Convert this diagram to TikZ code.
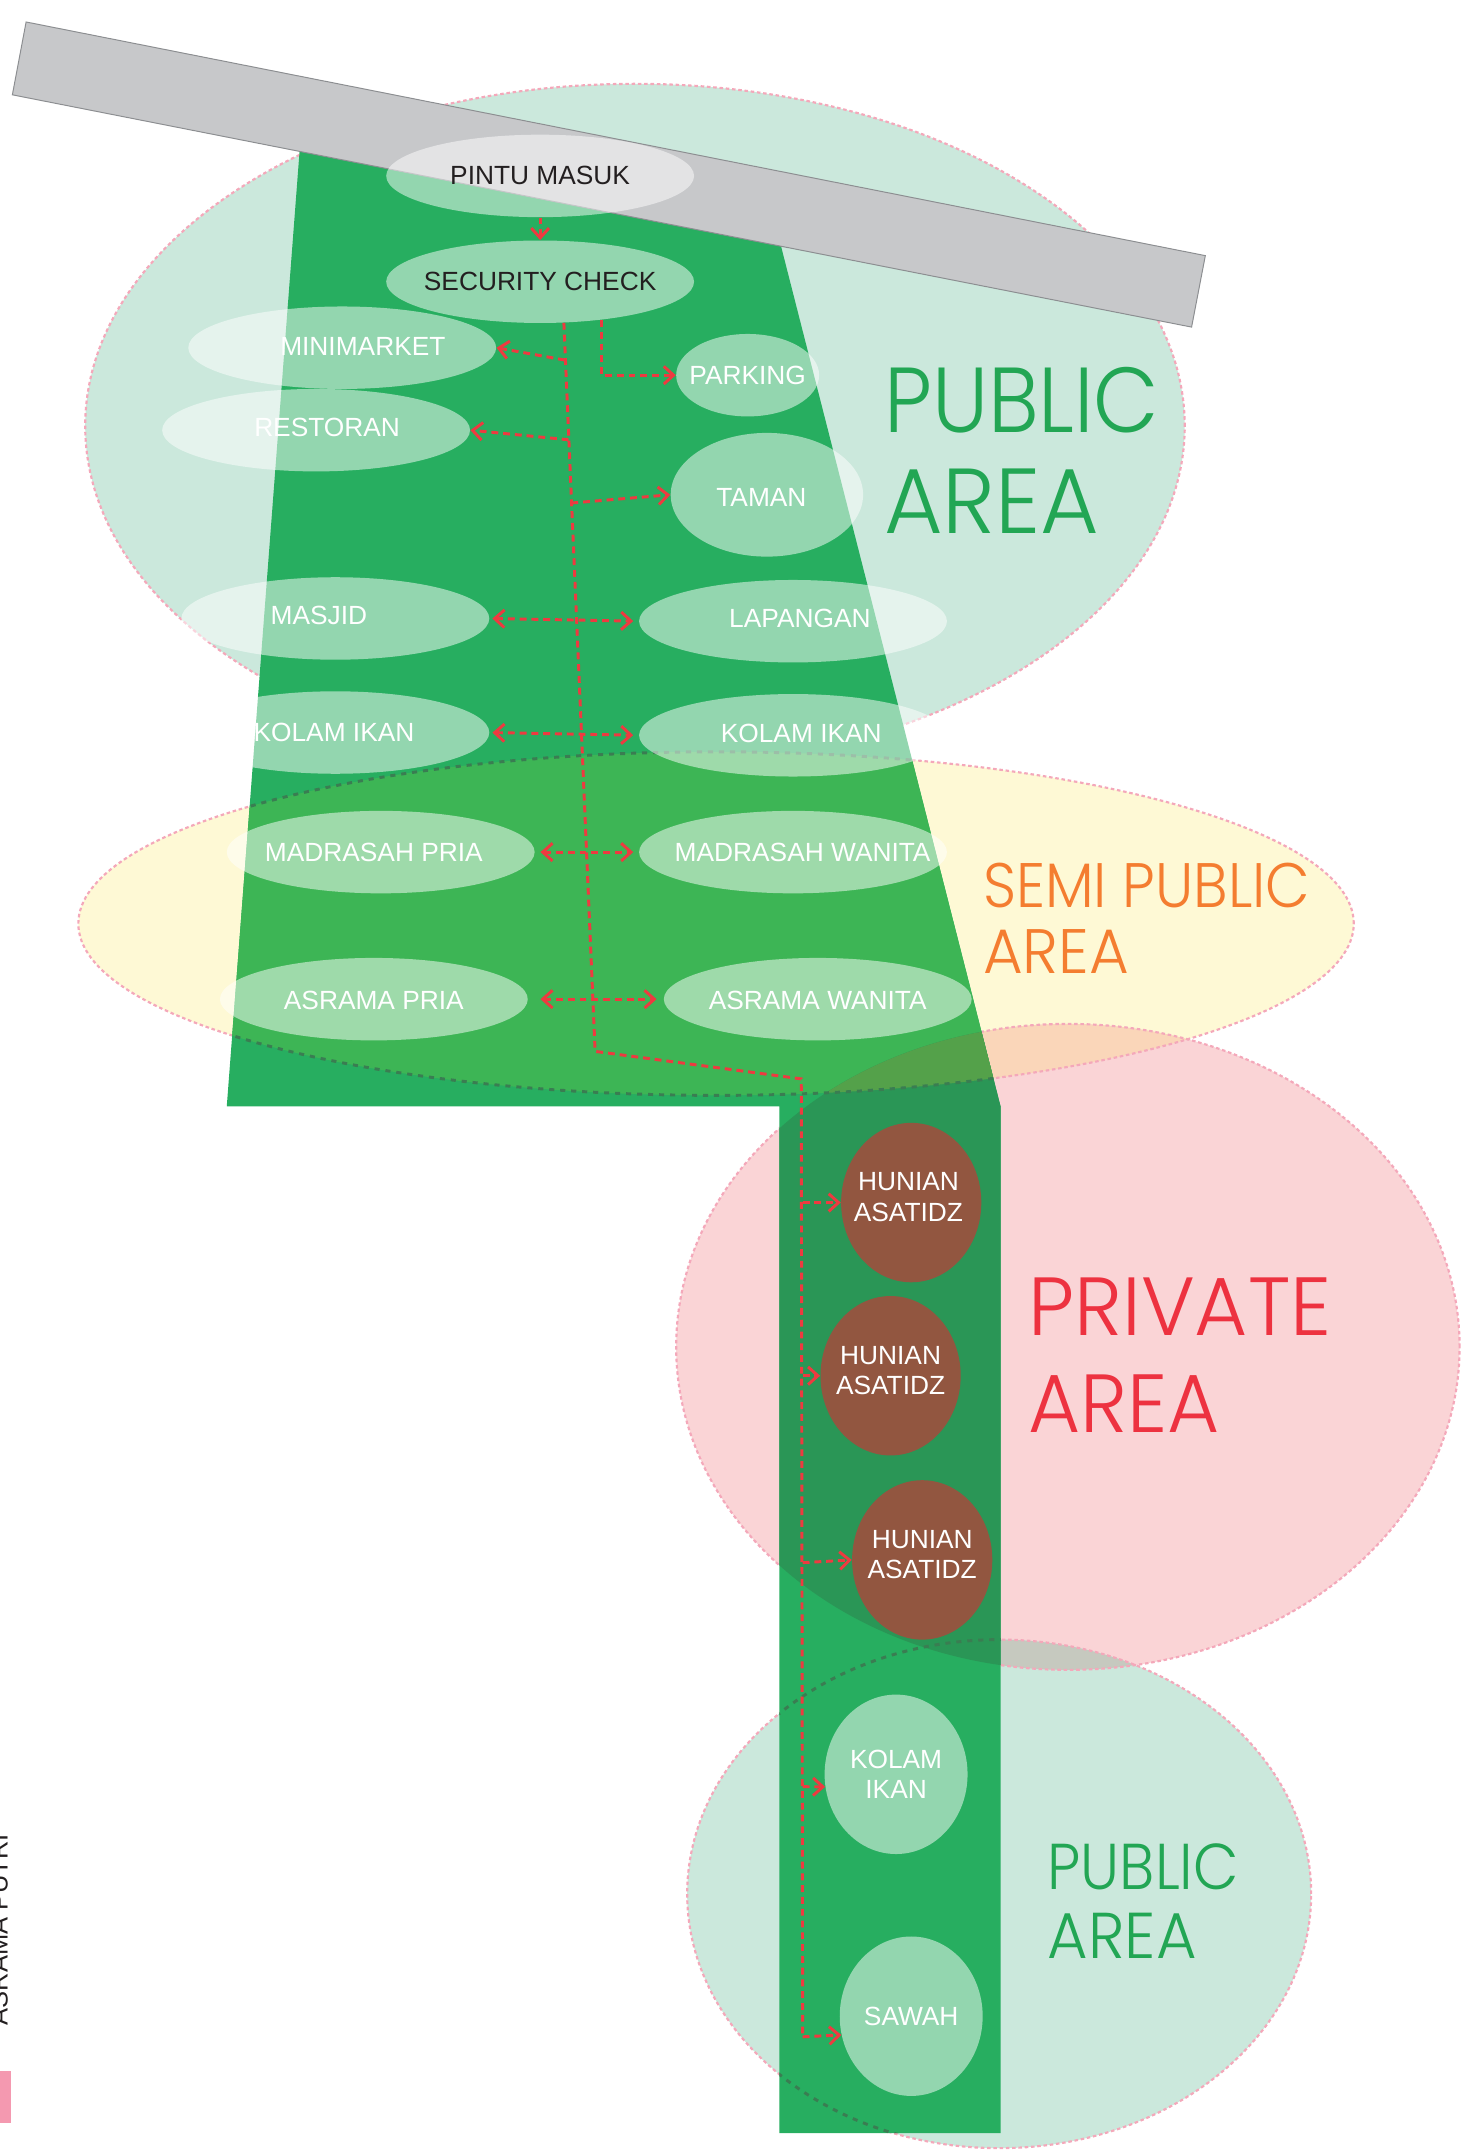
\documentclass[tikz,border=0pt]{standalone}
\usepackage{fontspec}
\usepackage{graphicx}
\setmainfont{Liberation Sans}
\IfFontExistsTF{Poppins Light}{\newfontfamily\zonefont{Poppins Light}}{\newfontfamily\zonefont{Poppins}}
\usetikzlibrary{shapes.geometric,arrows.meta}

\definecolor{mint}{RGB}{203,232,220}
\definecolor{zyellow}{RGB}{254,249,213}
\definecolor{zpink}{RGB}{250,212,214}
\definecolor{peach}{RGB}{250,214,185}
\definecolor{graymix}{RGB}{198,201,191}
\definecolor{mintyel}{RGB}{204,229,190}
\definecolor{zborder}{RGB}{244,168,186}
\definecolor{green1}{RGB}{39,174,96}
\definecolor{greenY}{RGB}{61,181,85}
\definecolor{greenP}{RGB}{42,150,86}
\definecolor{greenYP}{RGB}{84,161,74}
\definecolor{darkdash}{RGB}{58,125,82}
\definecolor{road}{RGB}{199,200,202}
\definecolor{roadedge}{RGB}{140,142,145}
\definecolor{nodefill}{RGB}{255,255,255}
\definecolor{brownfill}{RGB}{146,86,64}
\definecolor{flowred}{RGB}{238,58,64}
\definecolor{txtdark}{RGB}{35,31,32}
\definecolor{pubgreen}{RGB}{34,166,84}
\definecolor{semiorange}{RGB}{244,125,48}
\definecolor{privred}{RGB}{237,50,64}
\definecolor{tabpink}{RGB}{244,153,176}

\begin{document}
\begin{tikzpicture}[x=0.7pt,y=-0.7pt,
  zTop/.style={insert path={(462,310) ellipse [x radius=280pt, y radius=174.3pt]}},
  zYel/.style={insert path={(521,672) ellipse [x radius=324.8pt, y radius=87.5pt]}},
  zPink/.style={insert path={(777,980) ellipse [x radius=199.5pt, y radius=164.5pt]}},
  zLow/.style={insert path={(727,1378) ellipse [x radius=158.9pt, y radius=129.5pt]}},
  greenshape/.style={insert path={(219.5,90) -- (165,805) -- (567,805) -- (567,1552) -- (728,1552) -- (728,805) -- (563.4,160) -- cycle}},
  zoneline/.style={draw=zborder, line width=1.1pt, dash pattern=on 1.8pt off 1.4pt},
  darkline/.style={draw=darkdash, line width=1.5pt, dash pattern=on 2.6pt off 3pt},
  spot/.style={ellipse, fill=nodefill, fill opacity=0.5, draw=none, inner sep=0pt,
               minimum width=156.8pt, minimum height=42pt},
  house/.style={ellipse, fill=brownfill, draw=none, inner sep=0pt,
               minimum width=71.4pt, minimum height=81.2pt},
  lbl/.style={inner sep=0pt, text=white, font=\fontsize{13.4}{15.4}\selectfont, align=center},
  lbldark/.style={lbl, text=txtdark},
  zonetxt/.style={inner sep=0pt, anchor=base west},
  flow/.style={draw=flowred, line width=1.5pt, dash pattern=on 3.5pt off 2.5pt},
  oneway/.style={flow, -{Straight Barb[length=5pt,width=9pt]}},
  twoway/.style={flow, {Straight Barb[length=5pt,width=9pt]}-{Straight Barb[length=5pt,width=9pt]}}
]
\useasboundingbox (0,0) rectangle (1063,1568);

% ---------- zones ----------
\fill[mint, zTop];
\fill[zyellow, zYel];
\fill[zpink, zPink];
\fill[mint, zLow];
\begin{scope}
  \clip[zYel];
  \fill[mintyel, zTop];
  \fill[peach, zPink];
\end{scope}
\begin{scope}
  \clip[zPink];
  \fill[graymix, zLow];
\end{scope}
\draw[zoneline, zTop];
\draw[zoneline, zYel];
\draw[zoneline, zPink];
\draw[zoneline, zLow];

% ---------- green site ----------
\fill[green1, greenshape];
\begin{scope}
  \clip[greenshape];
  \fill[greenY, zYel];
  \fill[greenP, zPink];
  \begin{scope}
    \clip[zYel];
    \fill[greenYP, zPink];
  \end{scope}
  \draw[darkline, zYel];
  \draw[darkline, zLow];
\end{scope}

% ---------- road ----------
\draw[fill=road, draw=roadedge, line width=0.5pt] (19,16) -- (877,186) -- (867,238) -- (9,69) -- cycle;

% ---------- spaces ----------
\node[spot] (pintu) at (393,128) {};
\node[spot] (sec) at (393,205) {};
\node[spot] (mini) at (249,253) {};
\node[spot] (rest) at (230,313) {};
\node[spot, minimum width=72.8pt] (park) at (544,273) {};
\node[spot, minimum width=98pt, minimum height=63pt] (taman) at (558,360) {};
\node[spot] (masjid) at (244,450) {};
\node[spot] (lap) at (577,452) {};
\node[spot] (kolL) at (244,533) {};
\node[spot] (kolR) at (577,535) {};
\node[spot] (madP) at (277,620) {};
\node[spot] (madW) at (577,620) {};
\node[spot] (asP) at (272,727) {};
\node[spot] (asW) at (595,727) {};
\node[house] (hun1) at (663,875) {};
\node[house] (hun2) at (648,1001) {};
\node[house] (hun3) at (671,1135) {};
\node[spot, minimum width=72.8pt, minimum height=81.2pt] (kolB) at (652,1291) {};
\node[spot, minimum width=72.8pt, minimum height=81.2pt] (sawah) at (663,1467) {};

% ---------- circulation ----------
\coordinate (c1) at (411,262);
\coordinate (c2) at (413.7,320);
\coordinate (c3) at (415.7,366);
\coordinate (c8) at (433,765);
\coordinate (c9) at (583,785);
\coordinate (h1) at (584,875);
\coordinate (h2) at (584,1001);
\coordinate (h3) at (584,1137);
\coordinate (k1) at (584,1300);
\coordinate (s1) at (584,1482);

\draw[oneway] (pintu.south) -- (sec.north);
\draw[flow] (sec.-60) -- (c8) -- (c9) -- (s1);
\draw[oneway] (c1) -- (mini.east);
\draw[oneway] (c2) -- (rest.east);
\draw[oneway] (sec.-32) |- (park.west);
\draw[oneway] (c3) -- (taman.west);
\draw[twoway, shorten <=1.4pt, shorten >=2.8pt] (masjid.east) -- (lap.west);
\draw[twoway, shorten <=1.4pt, shorten >=2.8pt] (kolL.east) -- (kolR.west);
\draw[twoway, shorten <=2.8pt, shorten >=2.8pt] (madP.east) -- (madW.west);
\draw[twoway, shorten <=6.3pt, shorten >=3.5pt] (asP.east) -- (asW.west);
\draw[oneway] (h1) -- (hun1.west);
\draw[oneway] (h2) -- (hun2.west);
\draw[oneway] (h3) -- (hun3.west);
\draw[oneway] (k1) -- (kolB.190);
\draw[oneway] (s1) -- (sawah.195);

% ---------- labels ----------
\node[lbldark] (tPintu) at (393,128) {PINTU MASUK};
\node[lbldark] (tSec) at (393,205) {SECURITY CHECK};
\node[lbl] (tMini) at (264,252) {MINIMARKET};
\node[lbl] (tRest) at (238,311) {RESTORAN};
\node[lbl] (tPark) at (544,273) {PARKING};
\node[lbl] (tTaman) at (554,362) {TAMAN};
\node[lbl] (tMasjid) at (232,448) {MASJID};
\node[lbl] (tLap) at (582,450) {LAPANGAN};
\node[lbl] (tKolL) at (243,533) {KOLAM IKAN};
\node[lbl] (tKolR) at (583,534) {KOLAM IKAN};
\node[lbl] (tMadP) at (272,620) {MADRASAH PRIA};
\node[lbl] (tMadW) at (584,620) {MADRASAH WANITA};
\node[lbl] (tAsP) at (272,728) {ASRAMA PRIA};
\node[lbl] (tAsW) at (595,728) {ASRAMA WANITA};
\node[lbl] (tHun1) at (661,871) {HUNIAN\\ASATIDZ};
\node[lbl] (tHun2) at (648,997) {HUNIAN\\ASATIDZ};
\node[lbl] (tHun3) at (671,1131) {HUNIAN\\ASATIDZ};
\node[lbl] (tKolB) at (652,1291) {KOLAM\\IKAN};
\node[lbl] (tSawah) at (663,1467) {SAWAH};

% ---------- zone titles ----------
\node[zonetxt, text=pubgreen, font=\zonefont\fontsize{47}{47}\selectfont] (pubA) at (643,315) {\scalebox{0.92}[1]{PUBLIC}};
\node[zonetxt, text=pubgreen, font=\zonefont\fontsize{47}{47}\selectfont] (pubB) at (643,388) {\scalebox{0.975}[1]{AREA}};
\node[zonetxt, text=semiorange, font=\zonefont\fontsize{32}{32}\selectfont] (semiA) at (715,660) {\scalebox{0.92}[1]{SEMI PUBLIC}};
\node[zonetxt, text=semiorange, font=\zonefont\fontsize{32}{32}\selectfont] (semiB) at (715,708) {\scalebox{0.97}[1]{AREA}};
\node[zonetxt, text=privred, font=\zonefont\fontsize{42}{42}\selectfont] (privA) at (748,972) {\scalebox{0.99}[1]{PRIVATE}};
\node[zonetxt, text=privred, font=\zonefont\fontsize{42}{42}\selectfont] (privB) at (748,1042) {\scalebox{0.97}[1]{AREA}};
\node[zonetxt, text=pubgreen, font=\zonefont\fontsize{33}{33}\selectfont] (lowA) at (762,1375) {\scalebox{0.91}[1]{PUBLIC}};
\node[zonetxt, text=pubgreen, font=\zonefont\fontsize{33}{33}\selectfont] (lowB) at (762,1425) {\scalebox{0.96}[1]{AREA}};

% ---------- page edge ----------
\node[rotate=90, anchor=base, inner sep=0pt, text=txtdark, font=\fontsize{13}{13}\selectfont] (sideTxt) at (5.5,1404) {ASRAMA PUTRI};
\fill[tabpink] (0,1507) rectangle (8,1545);
\end{tikzpicture}
\end{document}
